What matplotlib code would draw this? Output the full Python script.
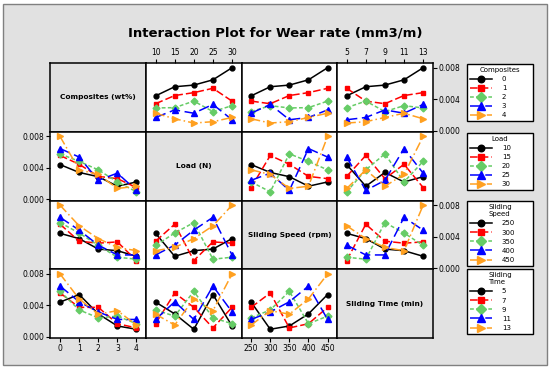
# interaction plot matrix for wear rate (L25 design)

import numpy as np
import pandas as pd
import matplotlib.pyplot as plt
from matplotlib.patches import Rectangle

# factor levels
composites = [0, 1, 2, 3, 4]
load = [10, 15, 20, 25, 30]
speed = [250, 300, 350, 400, 450]
stime = [5, 7, 9, 11, 13]

# L25 orthogonal array: level index of each factor for the 25 runs
idx_comp = [0, 0, 0, 0, 0, 1, 1, 1, 1, 1, 2, 2, 2, 2, 2, 3, 3, 3, 3, 3, 4, 4, 4, 4, 4]
idx_load = [0, 1, 2, 3, 4, 0, 1, 2, 3, 4, 0, 1, 2, 3, 4, 0, 1, 2, 3, 4, 0, 1, 2, 3, 4]
idx_speed = [0, 1, 2, 3, 4, 1, 2, 3, 4, 0, 2, 3, 4, 0, 1, 3, 4, 0, 1, 2, 4, 0, 1, 2, 3]
idx_time = [0, 1, 2, 3, 4, 2, 3, 4, 0, 1, 4, 0, 1, 2, 3, 1, 2, 3, 4, 0, 3, 4, 0, 1, 2]

# measured wear rate (mm3/m), one per run
wear = [0.00442, 0.00558, 0.00579, 0.00646, 0.00800,
        0.00342, 0.00446, 0.00483, 0.00538, 0.00375,
        0.00288, 0.00292, 0.00375, 0.00242, 0.00317,
        0.00167, 0.00263, 0.00221, 0.00333, 0.00138,
        0.00221, 0.00150, 0.00096, 0.00113, 0.00167]

names = ["Composites", "Load", "Speed", "Time"]
levels = [composites, load, speed, stime]
diag_labels = ["Composites (wt%)", "Load (N)", "Sliding Speed (rpm)", "Sliding Time (min)"]
legend_titles = ["Composites", "Load", "Sliding\nSpeed", "Sliding\nTime"]

df = pd.DataFrame({
    "Composites": [composites[i] for i in idx_comp],
    "Load": [load[i] for i in idx_load],
    "Speed": [speed[i] for i in idx_speed],
    "Time": [stime[i] for i in idx_time],
    "Wear": wear,
})

colors = ["black", "#ff0000", "#66cc66", "#0000ff", "#ffa020"]
markers = ["o", "s", "D", "^", ">"]
msizes = [3.5, 3.5, 3.5, 4.5, 4.5]
styles = ["-", (0, (5, 2)), (0, (2.5, 1.5)), (0, (7, 3)), (0, (6, 2, 1, 2))]

fig, axes = plt.subplots(4, 4, figsize=(5.5, 3.7), dpi=100)
fig.patch.set_facecolor("white")
fig.add_artist(Rectangle((3 / 550, 5 / 370), 544 / 550, 361 / 370,
                         transform=fig.transFigure, facecolor="#e1e1e1",
                         edgecolor="#808080", lw=1, zorder=-10))
plt.subplots_adjust(left=0.0918, right=0.7867, top=0.8297, bottom=0.0865,
                    wspace=0, hspace=0)

fig.text(0.5, 1 - 33 / 370, "Interaction Plot for Wear rate (mm3/m)",
         ha="center", va="center", fontsize=9.5, weight="bold")

row_handles = {}
for i in range(4):
    for j in range(4):
        ax = axes[i][j]
        for sp in ax.spines.values():
            sp.set_linewidth(1.1)
        ax.tick_params(which="both", left=False, right=False, top=False, bottom=False,
                       labelleft=False, labelright=False, labeltop=False, labelbottom=False,
                       labelsize=5.5, length=3, width=0.8, pad=1.5)
        xs = levels[j]
        step = xs[1] - xs[0]
        ax.set_xlim(xs[0] - 0.5 * step, xs[-1] + 0.5 * step)
        ax.set_ylim(-0.00015, 0.0086)
        ax.set_xticks(xs)
        ax.set_yticks([0.0, 0.004, 0.008])
        ax.set_yticklabels(["0.000", "0.004", "0.008"])
        if i == j:
            ax.set_facecolor("#e1e1e1")
            ax.text(0.5, 0.5, diag_labels[i], transform=ax.transAxes,
                    ha="center", va="center", fontsize=5.3, weight="bold")
            continue
        tab = df.pivot_table(index=names[j], columns=names[i], values="Wear")
        hs = []
        for k, lev in enumerate(levels[i]):
            h, = ax.plot(tab.index, tab[lev], color=colors[k], marker=markers[k],
                         ms=msizes[k], lw=1.1, ls=styles[k], label=str(lev))
            hs.append(h)
        row_handles.setdefault(i, hs)

# tick placement like the Minitab matrix
axes[1][0].tick_params(left=True, labelleft=True)
axes[3][0].tick_params(left=True, labelleft=True)
axes[0][3].tick_params(right=True, labelright=True)
axes[2][3].tick_params(right=True, labelright=True)
axes[3][0].tick_params(bottom=True, labelbottom=True)
axes[3][2].tick_params(bottom=True, labelbottom=True)
axes[0][1].tick_params(top=True, labeltop=True)
axes[0][3].tick_params(top=True, labeltop=True)

# legends, one per row
tops = [64, 133, 201, 269]
for i in range(4):
    hs = row_handles[i]
    leg = fig.legend(hs, [h.get_label() for h in hs], title=legend_titles[i],
                     loc="upper left", bbox_to_anchor=(467 / 550, 1 - tops[i] / 370, 66 / 550, 0),
                     mode="expand", borderaxespad=0, fontsize=5, title_fontsize=5,
                     handlelength=3.2, handleheight=0.6, handletextpad=1.4,
                     labelspacing=0.45, borderpad=0.4, fancybox=False, framealpha=1,
                     edgecolor="black", markerscale=1.35)
    leg.get_frame().set_linewidth(1.0)
    leg.get_title().set_linespacing(1.3)

plt.savefig("out.png", dpi=100, facecolor=fig.get_facecolor())
